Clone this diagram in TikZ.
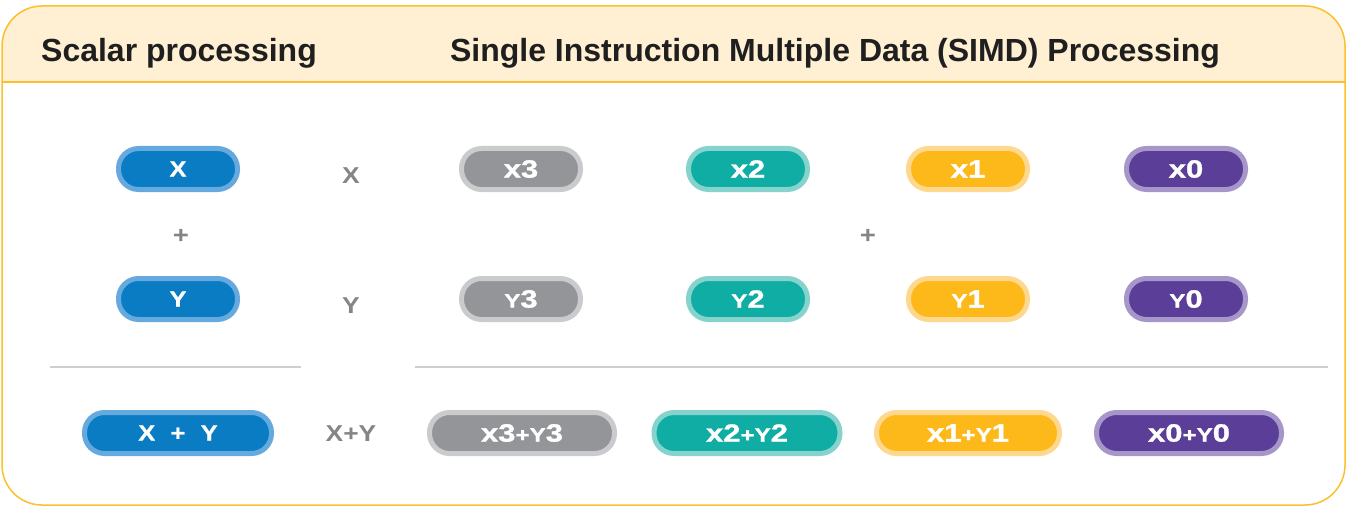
\documentclass[tikz,border=0pt]{standalone}
\usepackage{fontspec}
\setmainfont{Liberation Sans}
\newfontfamily\pillfont[FakeStretch=1.24,FakeBold=1.2]{Liberation Sans Bold}
\newfontfamily\scfont[FakeStretch=1.15,FakeBold=1]{Liberation Sans Bold}
\newfontfamily\labfont[FakeStretch=1.15]{Liberation Sans Bold}
\definecolor{frame}{HTML}{FCC02E}
\definecolor{head}{HTML}{FFEFD3}
\definecolor{rule}{HTML}{CFCFCF}
\definecolor{lab}{HTML}{858585}
\definecolor{blueD}{HTML}{0A7CC3}
\definecolor{blueL}{HTML}{66A9DE}
\definecolor{grayD}{HTML}{939598}
\definecolor{grayL}{HTML}{CACBCD}
\definecolor{tealD}{HTML}{10ADA4}
\definecolor{tealL}{HTML}{86D3CE}
\definecolor{yelD}{HTML}{FDB91A}
\definecolor{yelL}{HTML}{FED88E}
\definecolor{purD}{HTML}{5A3E97}
\definecolor{purL}{HTML}{A696C9}
\newcommand{\sy}[1]{{\fontsize{19.5}{19.5}\selectfont #1}}
\tikzset{
  x=1pt, y=-1pt,
  pill/.style 2 args={draw=#2, fill=#1, line width=5pt, rounded corners=20pt,
    minimum height=41pt, text=white, font=\pillfont\fontsize{25}{25}\selectfont, inner sep=0pt},
  spill/.style={pill={blueD}{blueL}, font=\scfont\fontsize{22}{22}\selectfont},
  lbl/.style={text=lab, font=\labfont\fontsize{23}{23}\selectfont, anchor=base},
  plus/.style={text=lab, font=\labfont\fontsize{24}{24}\selectfont},
  ttl/.style={text=black!88, font=\bfseries\fontsize{32}{32}\selectfont, anchor=base},
}
\begin{document}
\begin{tikzpicture}
\useasboundingbox (0,0) rectangle (1347,508);
% header
\begin{scope}
\clip[rounded corners=40pt] (2,6) rectangle (1345,505);
\fill[head] (2,6) rectangle (1345,82);
\end{scope}
\draw[frame, line width=1.5pt, rounded corners=40pt] (2,6) rectangle (1345,505);
\draw[frame, line width=1.5pt] (2,82) -- (1345,82);
\node[ttl] (t1) at (179,62) {Scalar processing};
\node[ttl] (t2) at (835,62) {Single Instruction Multiple Data (SIMD) Processing};
% rules
\draw[rule, line width=2pt] (50,367) -- (301,367);
\draw[rule, line width=2pt] (415,367) -- (1328,367);
% middle labels
\node[lbl] (lx) at (351,183) {X};
\node[lbl] (ly) at (351,313) {Y};
\node[lbl] (lxy) at (351,441) {X+Y};
\node[plus] (p1) at (181,236) {+};
\node[plus] (p2) at (868,236) {+};
% scalar pills
\node[spill, minimum width=119pt] (sx) at (178,169) {X};
\node[spill, minimum width=119pt] (sy) at (178,299) {Y};
\node[spill, minimum width=187pt] (sxy) at (178,433) {X\hspace{0.7em}+\hspace{0.7em}Y};
% SIMD row x
\node[pill={grayD}{grayL}, minimum width=119pt] (x3) at (521,169) {x3};
\node[pill={tealD}{tealL}, minimum width=119pt] (x2) at (748,169) {x2};
\node[pill={yelD}{yelL}, minimum width=119pt] (x1) at (968,169) {x1};
\node[pill={purD}{purL}, minimum width=119pt] (x0) at (1186,169) {x0};
% SIMD row y
\node[pill={grayD}{grayL}, minimum width=119pt] (y3) at (521,299) {\sy{Y}3};
\node[pill={tealD}{tealL}, minimum width=119pt] (y2) at (748,299) {\sy{Y}2};
\node[pill={yelD}{yelL}, minimum width=119pt] (y1) at (968,299) {\sy{Y}1};
\node[pill={purD}{purL}, minimum width=119pt] (y0) at (1186,299) {\sy{Y}0};
% SIMD sums
\node[pill={grayD}{grayL}, minimum width=185pt] (s3) at (522,433) {x3\sy{+Y}3};
\node[pill={tealD}{tealL}, minimum width=186pt] (s2) at (747,433) {x2\sy{+Y}2};
\node[pill={yelD}{yelL}, minimum width=183pt] (s1) at (968,433) {x1\sy{+Y}1};
\node[pill={purD}{purL}, minimum width=185pt] (s0) at (1189,433) {x0\sy{+Y}0};
\end{tikzpicture}
\end{document}
